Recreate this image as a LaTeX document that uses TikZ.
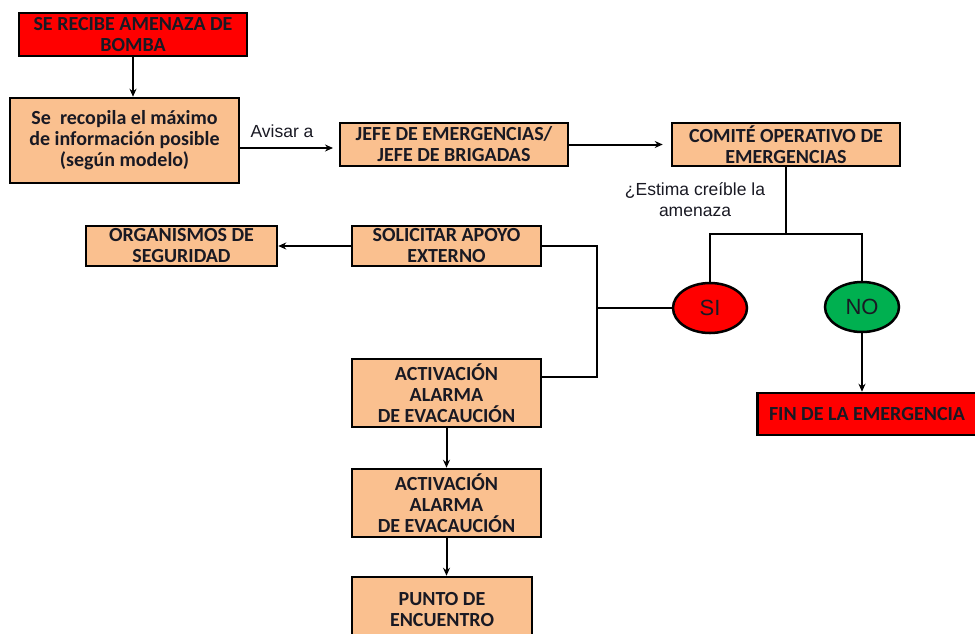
\documentclass[tikz,border=0pt]{standalone}
\usepackage{fontspec}
\setmainfont{Carlito}
\newfontfamily\arial{Liberation Sans}
\usepackage{tikz}
\usetikzlibrary{arrows.meta,shapes.geometric}
\definecolor{cajaNaranja}{RGB}{250,192,143}
\definecolor{alertaRojo}{RGB}{255,0,0}
\definecolor{noVerde}{RGB}{0,176,80}
\definecolor{textoOscuro}{RGB}{25,25,35}

\begin{document}
\begin{tikzpicture}[x=1pt,y=-1pt,
  caja/.style={draw=black,line width=2.5pt,fill=cajaNaranja,align=center,inner sep=0pt,
    text=textoOscuro,font=\bfseries\fontsize{20}{21}\selectfont},
  alerta/.style={caja,fill=alertaRojo},
  decision/.style={ellipse,draw=black,line width=2.5pt,minimum width=74pt,minimum height=50pt,
    inner sep=0pt,text=textoOscuro,font=\arial\fontsize{22}{24}\selectfont},
  etiqueta/.style={align=center,text=textoOscuro,font=\arial\fontsize{17.5}{21}\selectfont},
  flecha/.style={line width=2pt,-{Stealth[length=8pt,width=7pt]}},
  linea/.style={line width=2pt}]

  \useasboundingbox (0,0) rectangle (975,633);

  % columna izquierda
  \node[alerta,minimum width=228pt,minimum height=43pt] (bomba) at (133,34.5) {SE RECIBE AMENAZA DE\\BOMBA};
  \node[caja,minimum width=229pt,minimum height=85pt] (recopila) at (124.5,140.5) {Se~ recopila el máximo\\de información posible\\(según modelo)};
  \node[caja,minimum width=228pt,minimum height=43pt] (jefe) at (454,144.5) {JEFE DE EMERGENCIAS/\\JEFE DE BRIGADAS};
  \node[caja,minimum width=228pt,minimum height=43pt] (comite) at (786,144.5) {COMITÉ OPERATIVO DE\\EMERGENCIAS};

  \node[caja,minimum width=191pt,minimum height=40pt] (organismos) at (181.5,246) {ORGANISMOS DE\\SEGURIDAD};
  \node[caja,minimum width=189pt,minimum height=40pt] (solicitar) at (446.5,246) {SOLICITAR APOYO\\EXTERNO};
  \node[caja,minimum width=189pt,minimum height=68pt] (alarmaA) at (446.5,393) {ACTIVACIÓN\\ALARMA\\DE EVACAUCIÓN};
  \node[caja,minimum width=189pt,minimum height=68pt] (alarmaB) at (446.5,503) {ACTIVACIÓN\\ALARMA\\DE EVACAUCIÓN};
  \node[caja,minimum width=180pt,minimum height=66pt] (punto) at (442,610) {PUNTO DE\\ENCUENTRO};

  \node[decision,fill=alertaRojo] (si) at (710,308) {SI};
  \node[decision,fill=noVerde] (no) at (862,307) {NO};
  \node[alerta,minimum width=219pt,minimum height=42pt] (fin) at (867,414) {FIN DE LA EMERGENCIA};

  \node[etiqueta] (avisar) at (282,131) {Avisar a};
  \node[etiqueta] (estima) at (695,200) {¿Estima creíble la\\amenaza};

  \coordinate (rama) at (786,234);
  \coordinate (bus) at (597,308);
  \coordinate (bajo) at (597,377);

  % conectores
  \draw[flecha] (bomba) -- (bomba |- recopila.north);
  \draw[flecha] (recopila.east |- 0,148) -- (333,148);
  \draw[flecha] (jefe) -- ([xshift=-8pt]comite.west);
  \draw[linea] (comite) -- (rama);
  \draw[linea] (si) |- (rama) -| (no);
  \draw[flecha] (no) -- (no |- fin.north);
  \draw[linea] (si) -- (bus);
  \draw[linea] (solicitar.east) -| (bus) |- (alarmaA.east |- bajo);
  \draw[flecha] (solicitar) -- (organismos);
  \draw[flecha] (alarmaA) -- (alarmaB);
  \draw[flecha] (alarmaB) -- (alarmaB |- punto.north);

\end{tikzpicture}
\end{document}
